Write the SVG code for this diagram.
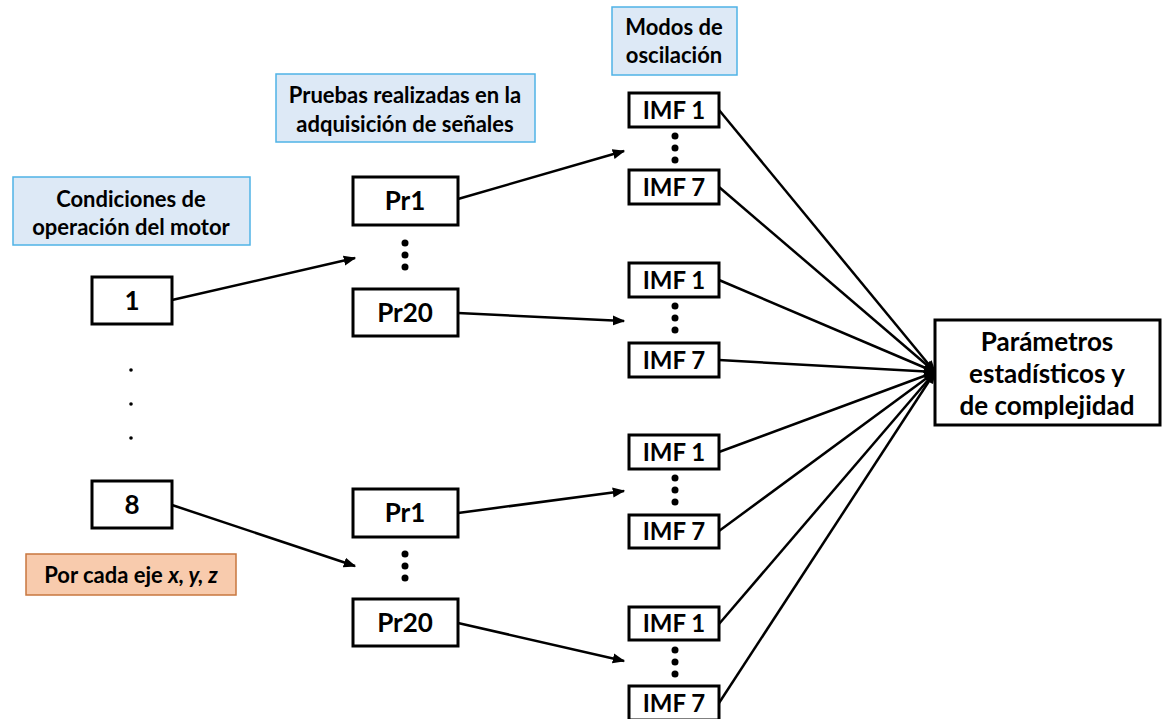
<svg xmlns="http://www.w3.org/2000/svg" width="1162" height="719" viewBox="0 0 1162 719">
  <style>
    .box { fill: #ffffff; stroke: #000000; stroke-width: 3; }
    .note { fill: #dde9f6; stroke: #4fb3e6; stroke-width: 1.5; }
    .axis { fill: #f8cbad; stroke: #c8773f; stroke-width: 1.5; }
    .t { font-family: Lato, "Open Sans", "Liberation Sans", sans-serif; font-weight: bold; fill: #000; text-anchor: middle; }
    .big { font-size: 26px; }
    .mid { font-size: 24px; }
    .out { font-size: 26px; }
    .sm { font-size: 22px; }
    .wire { stroke: #000; stroke-width: 2.5; fill: none; }
    .dot { fill: #000; }
  </style>
  <defs>
    <marker id="head" viewBox="0 0 10 10" refX="9" refY="5" markerWidth="5" markerHeight="5" orient="auto">
      <path d="M0,1 L10,5 L0,9 Z" fill="#000"/>
    </marker>
  </defs>

  <rect width="1162" height="719" fill="#ffffff"/>

  <!-- connectors -->
  <g id="connectors">
    <line class="wire" x1="172" y1="300" x2="355" y2="258" marker-end="url(#head)"/>
    <line class="wire" x1="172" y1="505" x2="355" y2="566" marker-end="url(#head)"/>
    <line class="wire" x1="458" y1="199" x2="624" y2="151" marker-end="url(#head)"/>
    <line class="wire" x1="458" y1="313" x2="624" y2="321" marker-end="url(#head)"/>
    <line class="wire" x1="458" y1="513" x2="624" y2="491" marker-end="url(#head)"/>
    <line class="wire" x1="458" y1="623" x2="624" y2="661" marker-end="url(#head)"/>
    <line class="wire" x1="719" y1="110" x2="935" y2="372" marker-end="url(#head)"/>
    <line class="wire" x1="719" y1="187" x2="935" y2="372" marker-end="url(#head)"/>
    <line class="wire" x1="719" y1="280" x2="935" y2="372" marker-end="url(#head)"/>
    <line class="wire" x1="719" y1="360" x2="935" y2="372" marker-end="url(#head)"/>
    <line class="wire" x1="719" y1="452" x2="935" y2="372" marker-end="url(#head)"/>
    <line class="wire" x1="719" y1="531" x2="935" y2="372" marker-end="url(#head)"/>
    <line class="wire" x1="719" y1="624" x2="935" y2="372" marker-end="url(#head)"/>
    <line class="wire" x1="719" y1="703" x2="935" y2="372" marker-end="url(#head)"/>
  </g>

  <!-- header notes -->
  <g id="note-condiciones">
    <rect class="note" x="13" y="177" width="237" height="68"/>
    <text class="t sm" x="131" y="207">Condiciones de</text>
    <text class="t sm" x="131" y="235">operación del motor</text>
  </g>
  <g id="note-pruebas">
    <rect class="note" x="276" y="74" width="259" height="68"/>
    <text class="t sm" x="405" y="103">Pruebas realizadas en la</text>
    <text class="t sm" x="405" y="132">adquisición de señales</text>
  </g>
  <g id="note-modos">
    <rect class="note" x="612" y="7" width="125" height="68"/>
    <text class="t sm" x="674" y="35">Modos de</text>
    <text class="t sm" x="674" y="63">oscilación</text>
  </g>
  <g id="note-eje">
    <rect class="axis" x="26" y="554" width="210" height="41"/>
    <text class="t sm" x="131" y="583">Por cada eje <tspan font-style="italic">x, y, z</tspan></text>
  </g>

  <!-- operating conditions -->
  <g id="cond-1">
    <rect class="box" x="92" y="277" width="80" height="47"/>
    <text class="t big" x="132" y="310">1</text>
  </g>
  <g id="cond-dots">
    <circle class="dot" cx="131" cy="370" r="1.8"/>
    <circle class="dot" cx="131" cy="404" r="1.8"/>
    <circle class="dot" cx="131" cy="438" r="1.8"/>
  </g>
  <g id="cond-8">
    <rect class="box" x="92" y="481" width="80" height="47"/>
    <text class="t big" x="132" y="514">8</text>
  </g>

  <!-- tests, upper set -->
  <g id="pr1-a">
    <rect class="box" x="353" y="177" width="105" height="48"/>
    <text class="t big" x="405" y="210">Pr1</text>
  </g>
  <g id="pr-dots-a">
    <circle class="dot" cx="405" cy="243" r="3.5"/>
    <circle class="dot" cx="405" cy="255" r="3.5"/>
    <circle class="dot" cx="405" cy="267" r="3.5"/>
  </g>
  <g id="pr20-a">
    <rect class="box" x="353" y="289" width="105" height="47"/>
    <text class="t big" x="405" y="322">Pr20</text>
  </g>

  <!-- tests, lower set -->
  <g id="pr1-b">
    <rect class="box" x="353" y="489" width="105" height="48"/>
    <text class="t big" x="405" y="522">Pr1</text>
  </g>
  <g id="pr-dots-b">
    <circle class="dot" cx="405" cy="554" r="3.5"/>
    <circle class="dot" cx="405" cy="566" r="3.5"/>
    <circle class="dot" cx="405" cy="578" r="3.5"/>
  </g>
  <g id="pr20-b">
    <rect class="box" x="353" y="599" width="105" height="47"/>
    <text class="t big" x="405" y="632">Pr20</text>
  </g>

  <!-- IMF group 1 -->
  <g id="imf1-g1">
    <rect class="box" x="629" y="93" width="90" height="34"/>
    <text class="t mid" x="674" y="119">IMF 1</text>
  </g>
  <g id="imf-dots-g1">
    <circle class="dot" cx="675" cy="136" r="3.5"/>
    <circle class="dot" cx="675" cy="148" r="3.5"/>
    <circle class="dot" cx="675" cy="160" r="3.5"/>
  </g>
  <g id="imf7-g1">
    <rect class="box" x="629" y="170" width="90" height="34"/>
    <text class="t mid" x="674" y="196">IMF 7</text>
  </g>

  <!-- IMF group 2 -->
  <g id="imf1-g2">
    <rect class="box" x="629" y="263" width="90" height="34"/>
    <text class="t mid" x="674" y="289">IMF 1</text>
  </g>
  <g id="imf-dots-g2">
    <circle class="dot" cx="675" cy="306" r="3.5"/>
    <circle class="dot" cx="675" cy="318" r="3.5"/>
    <circle class="dot" cx="675" cy="330" r="3.5"/>
  </g>
  <g id="imf7-g2">
    <rect class="box" x="629" y="343" width="90" height="34"/>
    <text class="t mid" x="674" y="369">IMF 7</text>
  </g>

  <!-- IMF group 3 -->
  <g id="imf1-g3">
    <rect class="box" x="629" y="435" width="90" height="34"/>
    <text class="t mid" x="674" y="461">IMF 1</text>
  </g>
  <g id="imf-dots-g3">
    <circle class="dot" cx="675" cy="478" r="3.5"/>
    <circle class="dot" cx="675" cy="490" r="3.5"/>
    <circle class="dot" cx="675" cy="502" r="3.5"/>
  </g>
  <g id="imf7-g3">
    <rect class="box" x="629" y="515" width="90" height="33"/>
    <text class="t mid" x="674" y="540">IMF 7</text>
  </g>

  <!-- IMF group 4 -->
  <g id="imf1-g4">
    <rect class="box" x="629" y="607" width="90" height="33"/>
    <text class="t mid" x="674" y="632">IMF 1</text>
  </g>
  <g id="imf-dots-g4">
    <circle class="dot" cx="675" cy="650" r="3.5"/>
    <circle class="dot" cx="675" cy="662" r="3.5"/>
    <circle class="dot" cx="675" cy="674" r="3.5"/>
  </g>
  <g id="imf7-g4">
    <rect class="box" x="629" y="686" width="90" height="34"/>
    <text class="t mid" x="674" y="712">IMF 7</text>
  </g>

  <!-- output -->
  <g id="parametros">
    <rect class="box" x="935" y="320" width="225" height="105"/>
    <text class="t out" x="1047" y="351">Parámetros</text>
    <text class="t out" x="1047" y="383">estadísticos y</text>
    <text class="t out" x="1047" y="415">de complejidad</text>
  </g>
</svg>
